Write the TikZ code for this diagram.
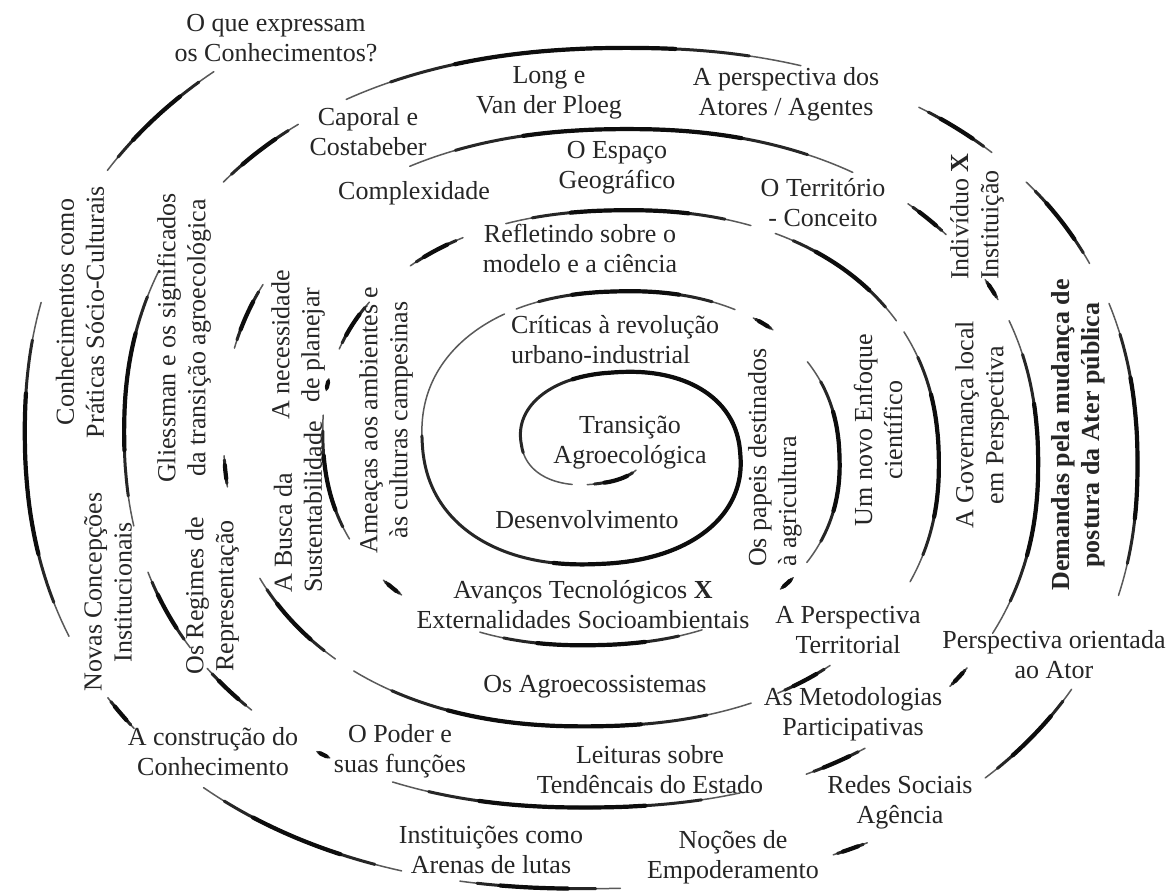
\documentclass[tikz,border=0pt]{standalone}
\usepackage{fontspec}
\setmainfont{Liberation Serif}

% one brush stroke along the spiral, tapered at both ends
\newcommand\spiralseg[2]{%
  \pgfmathsetmacro\segA{#1}%
  \pgfmathsetmacro\segB{#2}%
  \pgfmathsetmacro\segD{\segB-\segA}%
  \pgfmathtruncatemacro\segN{max(4,\segD+1)}%
  \pgfmathsetmacro\segC{\segA+0.12*\segD}%
  \pgfmathsetmacro\segE{\segB-0.12*\segD}%
  \pgfmathsetmacro\segF{\segA+0.28*\segD}%
  \pgfmathsetmacro\segG{\segB-0.28*\segD}%
  \draw[brushthin] plot[domain=\segA:\segB,samples=\segN] ({spx(\x)},{spy(\x)});
  \draw[brushmid]  plot[domain=\segC:\segE,samples=\segN] ({spx(\x)},{spy(\x)});
  \draw[brushcore] plot[domain=\segF:\segG,samples=\segN] ({spx(\x)},{spy(\x)});
}

\begin{document}
\begin{tikzpicture}[x=1pt,y=-1pt,
  declare function={
    spx(\t)=606+(34.3+0.2761*\t)*cos(\t)*(abs(cos(\t))+0.001)^(-0.1);
    spy(\t)=448+(14.1+0.2256*\t)*sin(\t)*(abs(sin(\t))+0.001)^(-0.1);
  },
  brushthin/.style={line width=1.5pt, line cap=round, line join=round, draw=black!65},
  brushmid/.style={line width=3pt, line cap=round, line join=round, draw=black!85},
  brushcore/.style={line width=4.2pt, line cap=round, line join=round, draw=black!95},
  lbl/.style={font=\fontsize{26}{30}\selectfont, align=center, inner sep=1pt, text=black!85},
  vlbl/.style={lbl, rotate=90},
]
\fill[white] (0,0) rectangle (1175,895);
\useasboundingbox (0,0) rectangle (1175,895);

% the spiral, from the centre outwards, broken where the labels sit
\spiralseg{55}{105}
\spiralseg{118}{602}
\spiralseg{606}{664}
\spiralseg{670}{677}
\spiralseg{692}{756}
\spiralseg{762}{767}
\spiralseg{790}{836}
\spiralseg{857}{863}
\spiralseg{877}{907}
\spiralseg{913}{916}
\spiralseg{924}{938}
\spiralseg{951}{964}
\spiralseg{973}{1015}
\spiralseg{1020}{1052}
\spiralseg{1055}{1108}
\spiralseg{1132}{1143}
\spiralseg{1148}{1211}
\spiralseg{1215}{1236}
\spiralseg{1254}{1259}
\spiralseg{1277}{1290}
\spiralseg{1323}{1384}
\spiralseg{1394}{1402}
\spiralseg{1412}{1416}
\spiralseg{1420}{1470}
\spiralseg{1477}{1481}
\spiralseg{1497}{1506}
\spiralseg{1515}{1555}
\spiralseg{1564}{1566}
\spiralseg{1577}{1586}
\spiralseg{1590}{1603}
\spiralseg{1610}{1645}
\spiralseg{1661}{1674}
\spiralseg{1681}{1730}
\spiralseg{1745}{1756}
\spiralseg{1762}{1776}
\spiralseg{1782}{1818}
\spiralseg{1832}{1848}
\spiralseg{1864}{1868}
\spiralseg{1889}{1903}
\spiralseg{1909}{1933}
\spiralseg{1944}{1949}
\spiralseg{1958}{1996}
\spiralseg{2014}{2031}

% horizontal labels
\node[lbl] (expressam) at (276,38) {O que expressam\\os Conhecimentos?};
\node[lbl] (long) at (549,93) {Long e\\Van der Ploeg};
\node[lbl] (atores) at (786,94) {A perspectiva dos\\Atores / Agentes};
\node[lbl] (caporal) at (368,132) {Caporal e\\Costabeber};
\node[lbl] (espaco) at (617,168) {O Espaço\\Geográfico};
\node[lbl] (complex) at (414,193) {Complexidade};
\node[lbl] (territorio) at (823,203) {O Território\\- Conceito};
\node[lbl] (refletindo) at (580,248) {Refletindo sobre o\\modelo e a ciência};
\node[lbl, align=left, anchor=west] (criticas) at (510,340) {Críticas à revolução\\urbano-industrial};
\node[lbl] (transicao) at (630,443) {Transição\\Agroecológica};
\node[lbl] (desenv) at (587,520) {Desenvolvimento};
\node[lbl] (avancos) at (583,605) {Avanços Tecnológicos \textbf{X}\\Externalidades Socioambientais};
\node[lbl] (agroeco) at (595,687) {Os Agroecossistemas};
\node[lbl] (leituras) at (650,770) {Leituras sobre\\Tendêncais do Estado};
\node[lbl] (arenas) at (491,850) {Instituições como\\Arenas de lutas};
\node[lbl] (empoder) at (733,857) {Noções de\\Empoderamento};
\node[lbl] (redes) at (900,802) {Redes Sociais\\Agência};
\node[lbl] (metodo) at (853,714) {As Metodologias\\Participativas};
\node[lbl] (pterrit) at (848,630) {A Perspectiva\\Territorial};
\node[lbl] (pator) at (1054,655) {Perspectiva orientada\\ao Ator};
\node[lbl] (construcao) at (213,752) {A construção do\\Conhecimento};
\node[lbl] (poder) at (400,751) {O Poder e\\suas funções};

% vertical labels, read from bottom to top
\node[vlbl] (praticas) at (80,312) {Conhecimentos como\\Práticas Sócio-Culturais};
\node[vlbl] (gliessman) at (184,338) {Gliessman e os significados\\da transição agroecológica};
\node[vlbl] (planejar) at (298,345) {A necessidade\\de planejar};
\node[vlbl, align=left, anchor=west] (busca) at (298,594) {A Busca da\\Sustentabilidade};
\node[vlbl] (ameacas) at (386,420) {Ameaças aos ambientes e\\às culturas campesinas};
\node[vlbl, align=left, anchor=west] (papeis) at (775,568) {Os papeis destinados\\à agricultura};
\node[vlbl] (enfoque) at (878,430) {Um novo Enfoque\\científico};
\node[vlbl] (governanca) at (982,425) {A Governança local\\em Perspectiva};
\node[vlbl, font=\fontsize{26}{30}\selectfont\bfseries] (demandas) at (1078,435) {Demandas pela mudança de\\postura da Ater pública};
\node[vlbl, align=left, anchor=west] (individuo) at (977,281) {Indivíduo \textbf{X}\\Instituição};
\node[vlbl] (novas) at (108,592) {Novas Concepções\\Institucionais};
\node[vlbl] (regimes) at (212,596) {Os Regimes de\\Representação};
\end{tikzpicture}
\end{document}
